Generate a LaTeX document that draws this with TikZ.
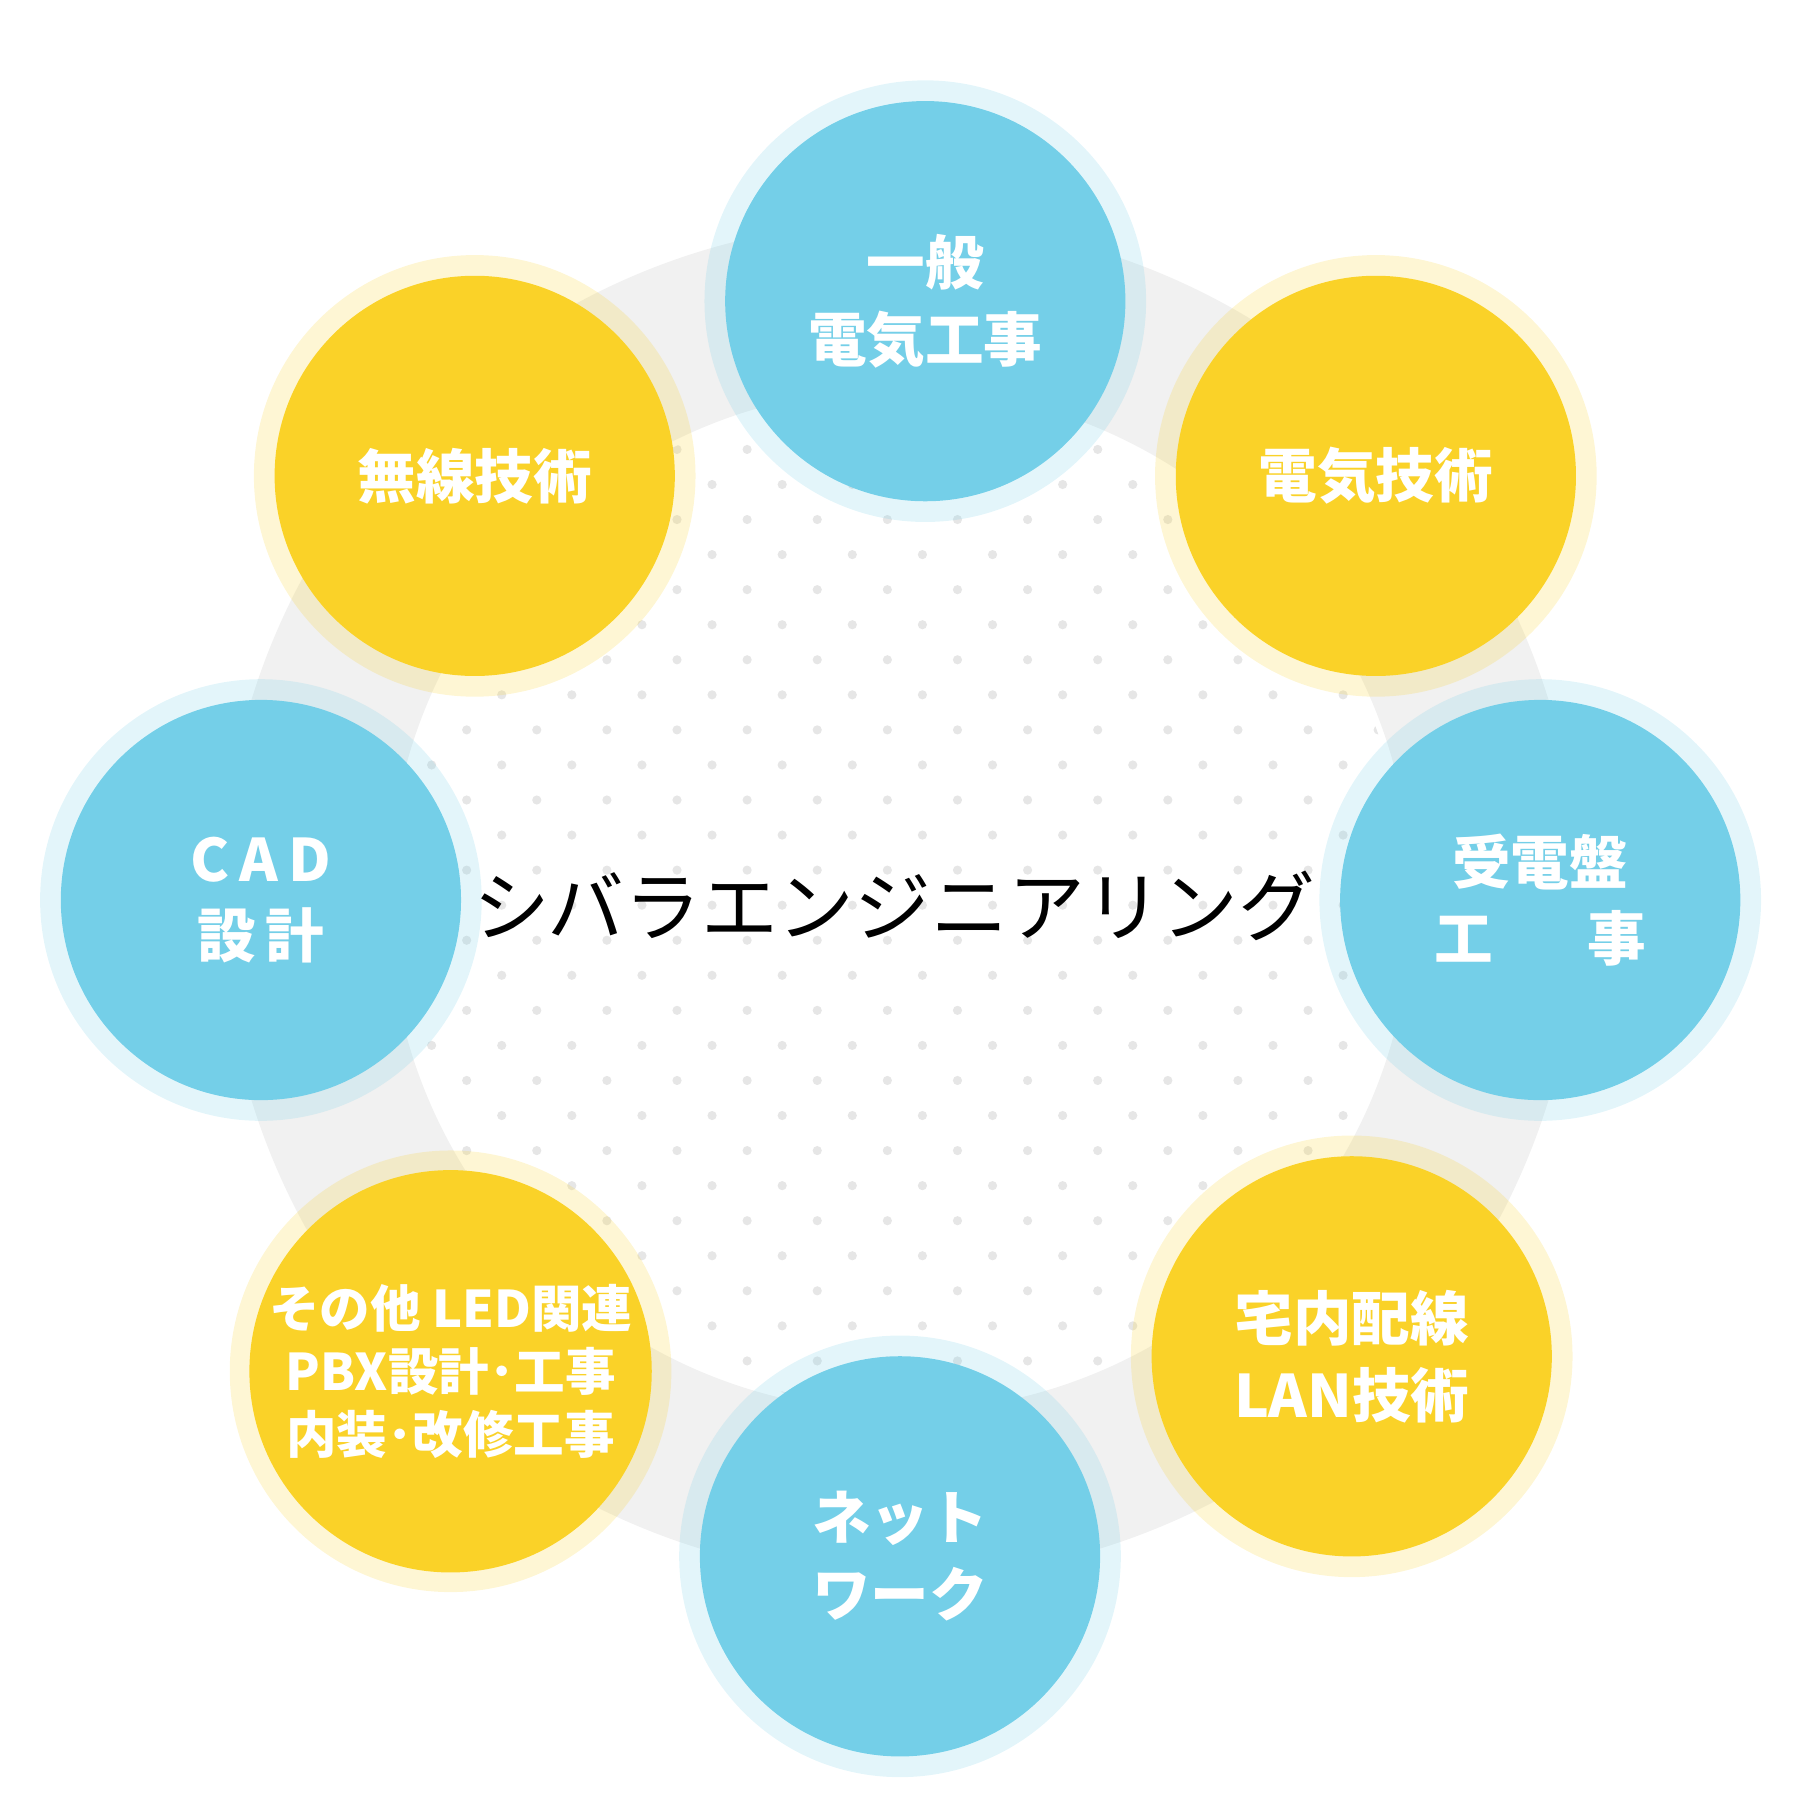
\documentclass[tikz,border=0pt]{standalone}
\usepackage{fontspec}
\newfontfamily\cjk{Noto Sans CJK JP}
\definecolor{cblue}{HTML}{74CFE8}
\definecolor{cyel}{HTML}{FAD228}
\definecolor{cgray}{HTML}{F1F1F1}
\definecolor{cdot}{HTML}{E6E6E6}
\begin{document}
\begin{tikzpicture}[x=0.01cm,y=-0.01cm,
  bub/.style={circle,minimum size=3.48cm,inner sep=0,text=white,font=\cjk\fontsize{14.5}{19}\selectfont\bfseries,align=center},
  bluebub/.style={bub,fill=cblue},
  yelbub/.style={bub,fill=cyel}]
\useasboundingbox (0,0) rectangle (1566,1566);
\fill[cgray,even odd rule] (783,783) circle (5.9cm) (783,783) circle (4.45cm);
\begin{scope}
\clip (783,783) circle (4.4cm);
\foreach \r in {0,...,30}{
  \pgfmathsetmacro{\yy}{330+30.5*\r}
  \pgfmathsetmacro{\off}{mod(\r,2)*30.5}
  \foreach \c in {0,...,15}{
    \fill[cdot] (\off+345+61*\c,\yy) circle (0.04cm);
  }}
\end{scope}
\foreach \p/\col in {{(805,262)}/cblue,{(1197,414)}/cyel,{(1340,783)}/cblue,{(1176,1180)}/cyel,{(783,1354)}/cblue,{(392,1193)}/cyel,{(227,783)}/cblue,{(413,414)}/cyel}{
  \fill[\col,opacity=0.2] \p circle (1.92cm);
}
\node[bluebub] (a) at (805,262) {一般\\電気工事};
\node[yelbub] (b) at (1197,414) {電気技術};
\node[bluebub] (c) at (1340,783) {受電盤\\工\hspace{1.6em}事};
\node[yelbub] (d) at (1176,1180) {宅内配線\\LAN技術};
\node[bluebub] (e) at (783,1354) {ネット\\ワーク};
\node[yelbub,font=\cjk\fontsize{12.5}{15.5}\selectfont\bfseries] (f) at (392,1193) {その他 LED関連\\PBX設計･工事\\内装･改修工事};
\node[bluebub] (g) at (227,783) {C\,A\,D\\設\,計};
\node[yelbub] (h) at (413,414) {無線技術};
\node[font=\cjk\fontsize{19}{22}\selectfont, text=black] (t) at (778,788) {シバラエンジニアリング};
\end{tikzpicture}
\end{document}
